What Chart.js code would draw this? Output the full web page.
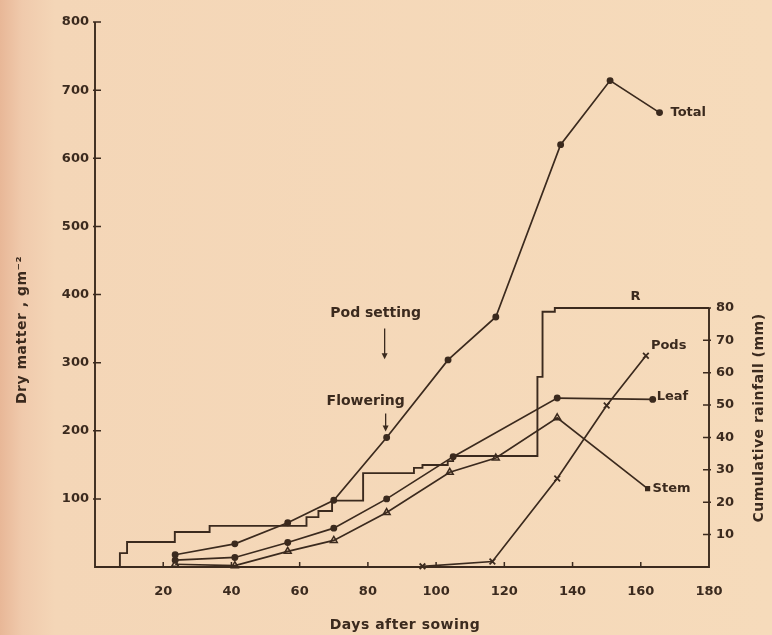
<!DOCTYPE html>
<html>
<head>
<meta charset="utf-8">
<script src="https://cdn.jsdelivr.net/npm/chart.js@4.4.1/dist/chart.umd.min.js"></script>
<style>
  html, body { margin: 0; padding: 0; }
  body {
    width: 772px; height: 635px; overflow: hidden;
    background: linear-gradient(90deg, #e8b797 0px, #f0caac 22px, #f4d6b7 55px, #f6dbbb 100%);
  }
  #wrap { position: relative; width: 772px; height: 635px; }
</style>
</head>
<body>
<div id="wrap"><canvas id="c" width="772" height="635"></canvas></div>
<script>
// Dry matter (g m-2) of each plant part against days after sowing
const totalDays = [23.5, 41, 56.5, 70, 85.5, 103.5, 117.5, 136.5, 151, 165.5];
const totalDM   = [18, 34, 65, 98, 190, 304, 367, 620, 714, 667];

const leafDays  = [23.5, 41, 56.5, 70, 85.5, 105, 135.5, 163.5];
const leafDM    = [10, 14, 36, 57, 100, 162, 248, 246];

const stemDays  = [23.5, 41, 56.5, 70, 85.5, 104, 117.5, 135.5, 162];
const stemDM    = [4, 2, 23, 39, 80, 139, 160, 219, 115];

const podDays   = [96, 116.5, 135.5, 150, 161.5];
const podDM     = [1, 8, 130, 237, 310];

// Cumulative rainfall (mm): day of each rise and the total after it
const rainDays  = [7.3, 7.3, 9.4, 23.4, 33.6, 62, 65.5, 69.5, 78.6, 93.5, 96, 103.4, 105, 129.7, 131.2, 134.8, 180];
const rainMM    = [0, 4.3, 7.7, 10.8, 12.7, 15.4, 17.3, 20.5, 29, 30.6, 31.5, 32.7, 34.3, 58.7, 78.8, 80, 80];

// Axis ticks
const dayTicks  = [20, 40, 60, 80, 100, 120, 140, 160, 180];
const dmTicks   = [100, 200, 300, 400, 500, 600, 700, 800];
const rainTicks = [10, 20, 30, 40, 50, 60, 70, 80];

const INK = '#3b2a1e';
const FONT = "'DejaVu Sans', sans-serif";

const pts = (xs, ys) => xs.map((d, i) => ({ x: d, y: ys[i] }));

const lineBase = {
  showLine: true,
  borderColor: INK,
  borderWidth: 1.7,
  pointBorderColor: INK,
  pointBackgroundColor: INK,
  tension: 0,
  clip: false
};

// Axis lines, inward tick marks, curve names and stage arrows
const notes = {
  id: 'notes',
  afterDatasetsDraw(chart) {
    const { ctx, scales: { x, y, y2 } } = chart;
    const x0 = x.getPixelForValue(0), x1 = x.getPixelForValue(180);
    const yb = y.getPixelForValue(0), yt = y.getPixelForValue(800);
    const yr = y2.getPixelForValue(80);
    ctx.save();
    ctx.strokeStyle = INK;
    ctx.fillStyle = INK;
    ctx.lineWidth = 1.9;
    ctx.beginPath();
    ctx.moveTo(x0, yt); ctx.lineTo(x0, yb); ctx.lineTo(x1, yb); ctx.lineTo(x1, yr);
    ctx.stroke();

    ctx.lineWidth = 1.5;
    ctx.beginPath();
    dmTicks.forEach(v => { const p = y.getPixelForValue(v); ctx.moveTo(x0 - 2, p); ctx.lineTo(x0 + 6, p); });
    dayTicks.slice(0, -1).forEach(v => { const p = x.getPixelForValue(v); ctx.moveTo(p, yb); ctx.lineTo(p, yb - 5); });
    rainTicks.forEach(v => { const p = y2.getPixelForValue(v); ctx.moveTo(x1 - 6, p); ctx.lineTo(x1 + 2, p); });
    ctx.stroke();

    ctx.font = "bold 13px " + FONT;
    ctx.textBaseline = 'middle';
    ctx.textAlign = 'left';
    const endPx = (xs, ys) => [x.getPixelForValue(xs[xs.length - 1]), y.getPixelForValue(ys[ys.length - 1])];
    let [px, py] = endPx(totalDays, totalDM);
    ctx.fillText('Total', px + 11, py);
    [px, py] = endPx(leafDays, leafDM);
    ctx.fillText('Leaf', px + 4, py - 3);
    [px, py] = endPx(stemDays, stemDM);
    ctx.fillText('Stem', px + 5, py);
    [px, py] = endPx(podDays, podDM);
    ctx.fillText('Pods', px + 5, py - 10);
    ctx.fillText('R', x.getPixelForValue(157), yr - 11);

    // Flowering and pod setting arrows at the day-85 sampling
    const ax = x.getPixelForValue(totalDays[4]);
    const tip = y.getPixelForValue(totalDM[4]) - 6;
    const arrow = (xx, yTop, yTip) => {
      ctx.lineWidth = 1.3;
      ctx.beginPath(); ctx.moveTo(xx, yTop); ctx.lineTo(xx, yTip - 4); ctx.stroke();
      ctx.beginPath(); ctx.moveTo(xx - 3, yTip - 6); ctx.lineTo(xx + 3, yTip - 6); ctx.lineTo(xx, yTip); ctx.closePath(); ctx.fill();
    };
    arrow(ax - 1, tip - 18, tip);
    ctx.textAlign = 'center';
    ctx.font = "bold 14px " + FONT;
    ctx.fillText('Flowering', ax - 21, tip - 30);
    const psTip = y.getPixelForValue(305);
    arrow(ax - 2, y.getPixelForValue(350), psTip);
    ctx.fillText('Pod setting', ax - 11, y.getPixelForValue(372));

    // Axis titles
    ctx.font = "bold 14px " + FONT;
    ctx.textAlign = 'center';
    ctx.letterSpacing = '0.5px';
    ctx.fillText('Days after sowing', 405, 625);
    ctx.save();
    ctx.translate(22, 330);
    ctx.rotate(-Math.PI / 2);
    ctx.fillText('Dry matter , gm\u207B\u00B2', 0, 0);
    ctx.restore();
    ctx.save();
    ctx.translate(759, 418);
    ctx.rotate(-Math.PI / 2);
    ctx.fillText('Cumulative rainfall (mm)', 0, 0);
    ctx.restore();
    ctx.restore();
  }
};

const tickFont = { family: FONT, size: 13, weight: 'bold' };

new Chart(document.getElementById('c'), {
  type: 'scatter',
  data: {
    datasets: [
      Object.assign({}, lineBase, { label: 'Total', data: pts(totalDays, totalDM), pointRadius: 2.6, pointStyle: 'circle' }),
      Object.assign({}, lineBase, { label: 'Leaf', data: pts(leafDays, leafDM), pointRadius: 2.6, pointStyle: 'circle' }),
      Object.assign({}, lineBase, {
        label: 'Stem', data: pts(stemDays, stemDM),
        pointStyle: stemDays.map((d, i) => i === stemDays.length - 1 ? 'rect' : 'triangle'),
        pointRadius: stemDays.map((d, i) => i === stemDays.length - 1 ? 2.6 : 4),
        pointBackgroundColor: stemDays.map((d, i) => i === stemDays.length - 1 ? INK : 'rgba(0,0,0,0)'),
        pointBorderWidth: 1.5
      }),
      Object.assign({}, lineBase, { label: 'Pods', data: pts(podDays, podDM), pointRadius: 4, pointStyle: 'crossRot', pointBorderWidth: 1.8 }),
      Object.assign({}, lineBase, { label: 'Rainfall', data: pts(rainDays, rainMM), yAxisID: 'y2', stepped: 'before', pointRadius: 0, borderWidth: 1.9 })
    ]
  },
  options: {
    responsive: false,
    animation: false,
    devicePixelRatio: 1,
    layout: { padding: { top: 22, left: 0, right: 0, bottom: 0 } },
    plugins: { legend: { display: false }, tooltip: { enabled: false } },
    scales: {
      x: {
        type: 'linear', min: 0, max: 180,
        afterBuildTicks: s => { s.ticks = dayTicks.map(v => ({ value: v })); },
        afterFit: s => { s.height = 68; },
        grid: { display: false, drawTicks: false },
        border: { display: false },
        ticks: { padding: 17, color: INK, font: tickFont, maxRotation: 0, autoSkip: false }
      },
      y: {
        min: 0, max: 800,
        afterBuildTicks: s => { s.ticks = dmTicks.map(v => ({ value: v })); },
        afterFit: s => { s.width = 95; },
        grid: { display: false, drawTicks: false },
        border: { display: false },
        ticks: { padding: 6, color: INK, font: tickFont }
      },
      y2: {
        position: 'right', min: 0, max: 168.3,
        afterBuildTicks: s => { s.ticks = rainTicks.map(v => ({ value: v })); },
        afterFit: s => { s.width = 63; },
        grid: { display: false, drawTicks: false },
        border: { display: false },
        ticks: { padding: 7, color: INK, font: tickFont }
      }
    }
  },
  plugins: [notes]
});
</script>
</body>
</html>
